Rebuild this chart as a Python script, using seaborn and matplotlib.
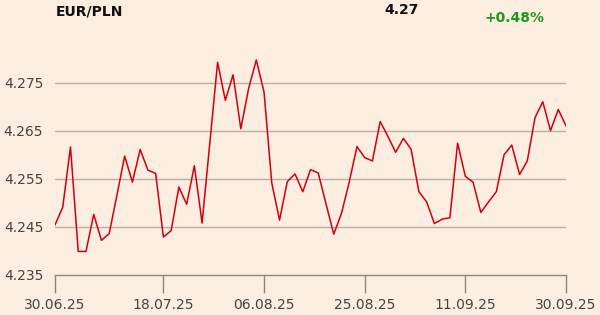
import matplotlib
matplotlib.use("Agg")
import matplotlib.pyplot as plt
import seaborn as sns
import pandas as pd

values = [
    4.2454, 4.2491, 4.2616, 4.2399, 4.2399, 4.2476, 4.2422, 4.2436, 4.2516, 4.2597,
    4.2543, 4.2611, 4.2568, 4.2561, 4.2429, 4.2442, 4.2533, 4.2497, 4.2577, 4.2458,
    4.2625, 4.2792, 4.2713, 4.2766, 4.2654, 4.2737, 4.2797, 4.2730, 4.2541, 4.2464,
    4.2544, 4.2560, 4.2523, 4.2569, 4.2562, 4.2498, 4.2435, 4.2478, 4.2543, 4.2617,
    4.2594, 4.2587, 4.2669, 4.2638, 4.2605, 4.2634, 4.2611, 4.2523, 4.2502, 4.2457,
    4.2466, 4.2469, 4.2624, 4.2555, 4.2543, 4.2480, 4.2502, 4.2523, 4.2600, 4.2620,
    4.2559, 4.2587, 4.2677, 4.2710, 4.2650, 4.2694, 4.2660,
]
tick_positions = [0, 14, 27, 40, 53, 66]
tick_labels = ["30.06.25", "18.07.25", "06.08.25", "25.08.25", "11.09.25", "30.09.25"]
y_ticks = [4.235, 4.245, 4.255, 4.265, 4.275]
y_labels = ["4.235", "4.245", "4.255", "4.265", "4.275"]
title = "EUR/PLN"
last_value = "4.27"
change = "+0.48%"

bg = "#fbede0"
sns.set_theme(style="white")
plt.rcParams['font.family'] = ['DejaVu Sans']

df = pd.DataFrame({"i": range(len(values)), "v": values})

fig = plt.figure(figsize=(6, 3.15), dpi=100, facecolor=bg)
ax = fig.add_axes([55/600, 1-275/315, (566-55)/600, (275-45)/315])
ax.set_facecolor(bg)

for yv in y_ticks[1:]:
    ax.axhline(yv, color="#b5b0ab", lw=1.0, zorder=1)

sns.lineplot(data=df, x="i", y="v", ax=ax, color="#d0000e", lw=1.1, zorder=3)

ax.set_xlim(0, 66)
ax.set_ylim(4.235, 4.2828)
ax.set_xticks(tick_positions)
ax.set_xticklabels(tick_labels)
ax.set_yticks(y_ticks)
ax.set_yticklabels(y_labels)
ax.set_xlabel("")
ax.set_ylabel("")
for s in ["top", "right", "left"]:
    ax.spines[s].set_visible(False)
ax.spines["bottom"].set_color("#8a8784")
ax.spines["bottom"].set_linewidth(1.0)
ax.tick_params(axis="x", length=13, width=1.0, color="#8a8784", labelsize=10,
               labelcolor="#444444", pad=3.5, direction="out", bottom=True)
ax.tick_params(axis="y", length=0, labelsize=10, labelcolor="#444444", pad=8.5)

fig.text(56/600, 1-11.5/315, title, fontsize=10, fontweight="bold", color="#111111",
         ha="left", va="center")
fig.text(384/600, 1-10.3/315, last_value, fontsize=10, fontweight="bold", color="#111111",
         ha="left", va="center")
fig.text(485/600, 1-17.5/315, change, fontsize=10, fontweight="bold", color="#1a9a1a",
         ha="left", va="center")

fig.savefig("out.png", dpi=100, facecolor=bg)
